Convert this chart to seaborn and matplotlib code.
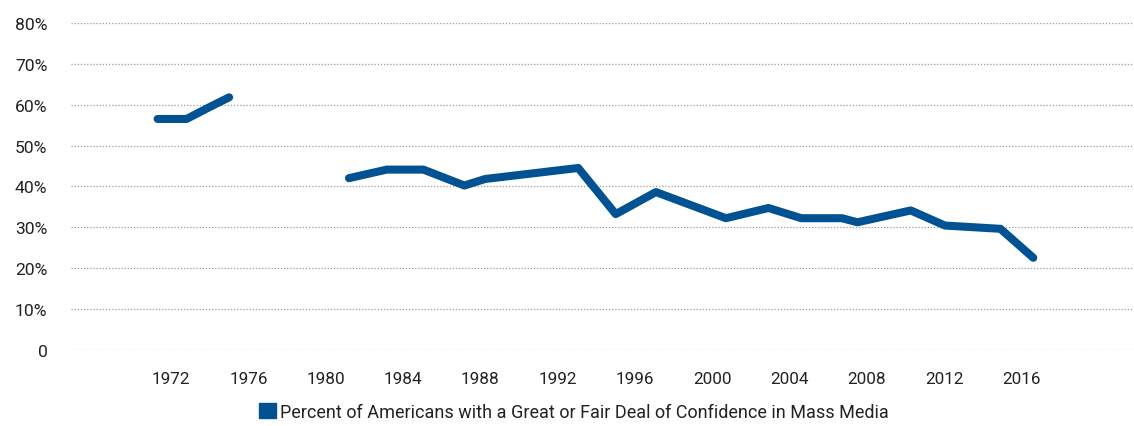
import pandas as pd
import seaborn as sb
import matplotlib
matplotlib.use("Agg")
import matplotlib.pyplot as plt
from matplotlib.patches import Patch

# values (x = position in years, y = percent)
years_early = [1971.3, 1972.8, 1973.9, 1975.0]
conf_early = [56.5, 56.5, 59.2, 61.8]

years_late = [1981.2, 1983.15, 1985.05, 1987.17, 1988.24, 1993.06, 1995.0,
              1997.08, 2000.7, 2002.9, 2004.6, 2006.7, 2007.5, 2010.26,
              2012.03, 2014.9, 2016.6]
conf_late = [42.0, 44.1, 44.1, 40.2, 41.8, 44.5, 33.2,
             38.6, 32.2, 34.7, 32.2, 32.2, 31.2, 34.1,
             30.4, 29.6, 22.5]

x_ticks = list(range(1972, 2017, 4))
y_ticks = [0, 10, 20, 30, 40, 50, 60, 70, 80]
y_tick_labels = ["0", "10%", "20%", "30%", "40%", "50%", "60%", "70%", "80%"]
series_name = "Percent of Americans with a Great or Fair Deal of Confidence in Mass Media"

early = pd.DataFrame({"year": years_early, "pct": conf_early})
late = pd.DataFrame({"year": years_late, "pct": conf_late})

sb.set_style("white")
plt.rcParams["font.family"] = ["Roboto", "DejaVu Sans"]

blue = "#005293"
text_col = "#222222"

fig = plt.figure(figsize=(11.34, 4.27), dpi=100)
ax = fig.add_axes([0.0626, 0.1787, 0.9374, 0.7651])

line_kw = dict(color=blue, linewidth=5.8, solid_capstyle="round",
               solid_joinstyle="round", legend=False)
sb.lineplot(data=early, x="year", y="pct", ax=ax, **line_kw)
sb.lineplot(data=late, x="year", y="pct", ax=ax, **line_kw)

ax.set_xlim(1966.82, 2021.81)
ax.set_ylim(0, 80)
ax.set_xticks(x_ticks)
ax.set_xticklabels([str(y) for y in x_ticks])
ax.set_yticks(y_ticks)
ax.set_yticklabels(y_tick_labels)
ax.set_xlabel("")
ax.set_ylabel("")

ax.grid(axis="y", linestyle=(0, (1, 1.5)), color="#9a9a9a", linewidth=0.9)
ax.grid(axis="x", visible=False)
for s in ax.spines.values():
    s.set_visible(False)
ax.tick_params(axis="y", length=0, pad=17, labelsize=12.6, labelcolor=text_col)
ax.tick_params(axis="x", length=0, pad=15.5, labelsize=12.3, labelcolor=text_col)

handle = Patch(facecolor=blue, edgecolor=blue)
fig.legend([handle], [series_name], loc="center", bbox_to_anchor=(0.506, 0.033),
           frameon=False, fontsize=13, handlelength=0.9, handleheight=0.85,
           handletextpad=0.22, labelcolor=text_col)

fig.savefig("out.png", dpi=100)
